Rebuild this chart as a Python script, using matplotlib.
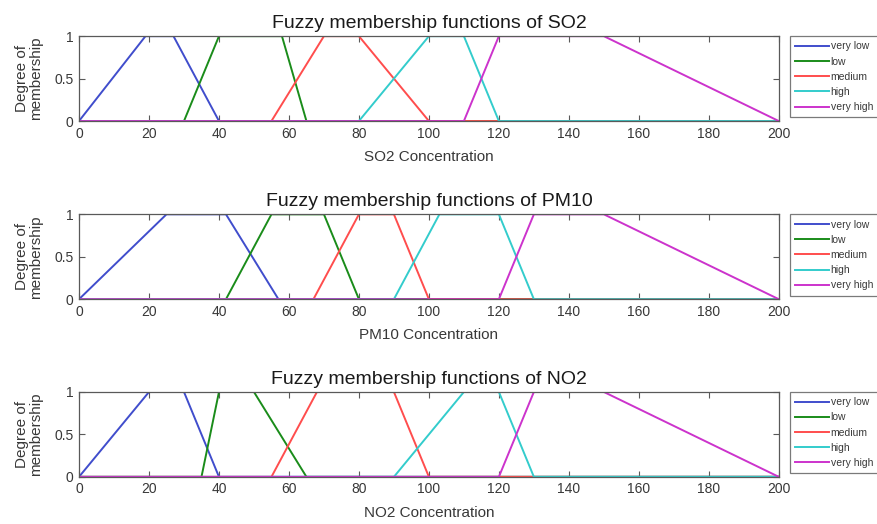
import matplotlib
matplotlib.use("Agg")
import matplotlib.pyplot as plt

plt.rcParams["font.family"] = ["Liberation Sans", "DejaVu Sans"]

# Trapezoid breakpoints (a, b, c, d) for each linguistic term
labels = ["very low", "low", "medium", "high", "very high"]
pollutants = ["SO2", "PM10", "NO2"]

so2_params = [(0, 19, 27, 40), (30, 40, 58, 65), (55, 70, 80, 100),
              (80, 100, 110, 120), (110, 120, 150, 200)]
pm10_params = [(0, 25, 42, 57), (42, 55, 70, 80), (67, 80, 90, 100),
               (90, 103, 120, 130), (120, 130, 150, 200)]
no2_params = [(0, 20, 30, 40), (35, 40, 50, 65), (55, 68, 90, 100),
              (90, 110, 120, 130), (120, 130, 150, 200)]

x_min, x_max = 0, 200
xticks = list(range(0, 201, 20))
yticks = [0, 0.5, 1]
yticklabels = ["0", "0.5", "1"]

colors = [(0.25, 0.30, 0.80), (0.10, 0.55, 0.10), (1.0, 0.30, 0.30),
          (0.20, 0.80, 0.80), (0.80, 0.20, 0.80)]

all_params = [so2_params, pm10_params, no2_params]

fig = plt.figure(figsize=(8.78, 5.24), dpi=100)
bottoms = [0.769, 0.429, 0.090]
left, width, height = 0.090, 0.797, 0.162
grey = (0.35, 0.35, 0.35)
txt = (0.22, 0.22, 0.22)

for name, params, bottom in zip(pollutants, all_params, bottoms):
    ax = fig.add_axes([left, bottom, width, height])
    for lab, (a, b, c, d), col in zip(labels, params, colors):
        xs = [x_min, a, b, c, d, x_max]
        ys = [0, 0, 1, 1, 0, 0]
        ax.plot(xs, ys, color=col, lw=1.4, label=lab, solid_joinstyle="miter")
    ax.set_xlim(x_min, x_max)
    ax.set_ylim(0, 1)
    ax.set_xticks(xticks)
    ax.set_yticks(yticks)
    ax.set_yticklabels(yticklabels)
    ax.tick_params(direction="in", top=True, right=True, length=4,
                   labelsize=10, colors=grey, labelcolor=txt, pad=4)
    for s in ax.spines.values():
        s.set_color(grey)
        s.set_linewidth(0.9)
    ax.set_title(f"Fuzzy membership functions of {name}", fontsize=14,
                 color=(0.1, 0.1, 0.1), pad=6)
    ax.set_xlabel(f"{name} Concentration", fontsize=11, color=txt, labelpad=7)
    ax.set_ylabel("Degree of\nmembership", fontsize=11, color=txt,
                  labelpad=8, linespacing=1.0)
    leg = ax.legend(loc="upper left", bbox_to_anchor=(1.016, 1.0), borderaxespad=0,
                    fontsize=7.5, frameon=True, fancybox=False, handlelength=3.2,
                    handletextpad=0.2, labelspacing=0.5, borderpad=0.5)
    leg.get_frame().set_edgecolor(grey)
    leg.get_frame().set_linewidth(0.9)
    for t in leg.get_texts():
        t.set_color(txt)

fig.savefig("out.png", dpi=100)
